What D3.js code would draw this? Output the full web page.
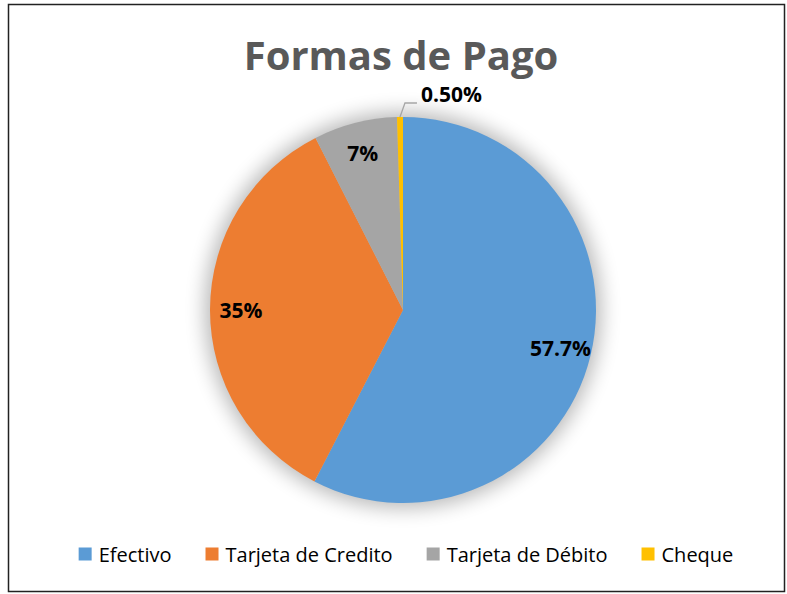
<!DOCTYPE html>
<html>
<head>
<meta charset="utf-8">
<script src="https://cdn.jsdelivr.net/npm/d3@7"></script>
<style>
  body { margin: 0; background: #fff; }
  text { font-family: "Open Sans", "Noto Sans", sans-serif; }
</style>
</head>
<body>
<div id="canvas"></div>
<script>
"use strict"

/* Data */
let categories = ["Efectivo", "Tarjeta de Credito", "Tarjeta de Débito", "Cheque"];
let values = [57.7, 35, 7, 0.5];
let labels = ["57.7%", "35%", "7%", "0.50%"];
let colors = ["#5B9BD5", "#ED7D31", "#A5A5A5", "#FFC000"];

/* Drawing setup */
let svgWidth = 787;
let svgHeight = 594;
let cx = 403;
let cy = 310;
let radius = 193;

let svg = d3.select("#canvas")
    .append("svg")
    .attr("width", svgWidth)
    .attr("height", svgHeight);

/* chart frame */
svg.append("rect")
    .attr("x", 8.5)
    .attr("y", 4.5)
    .attr("width", 776)
    .attr("height", 587)
    .attr("fill", "#fff")
    .attr("stroke", "#222")
    .attr("stroke-width", 1.5);

/* title */
svg.append("text")
    .attr("x", 401)
    .attr("y", 70)
    .attr("text-anchor", "middle")
    .attr("font-size", 40)
    .attr("font-weight", "bold")
    .attr("fill", "#595959")
    .text("Formas de Pago");

/* soft shadow behind the pie */
let defs = svg.append("defs");
defs.append("filter")
    .attr("id", "shadow")
    .attr("x", "-30%").attr("y", "-30%")
    .attr("width", "160%").attr("height", "160%")
    .append("feGaussianBlur")
    .attr("stdDeviation", 10);

let g = svg.append("g")
    .attr("transform", "translate(" + cx + "," + cy + ")");

g.append("circle")
    .attr("r", radius + 5)
    .attr("fill", "#000")
    .attr("opacity", 0.28)
    .attr("filter", "url(#shadow)");

let pie = d3.pie().sort(null).value(function(d) { return d; });
let arcs = pie(values);

let arc = d3.arc().innerRadius(0).outerRadius(radius);
let labelArc = d3.arc().innerRadius(radius * 0.84).outerRadius(radius * 0.84);
let outerArc = d3.arc().innerRadius(radius).outerRadius(radius);

g.selectAll("path.slice")
    .data(arcs)
    .join("path")
    .attr("class", "slice")
    .attr("d", arc)
    .attr("fill", function(d, i) { return colors[i]; });

/* labels inside the slices, the tiny one outside with a leader line */
arcs.forEach(function(d, i) {
    if (d.endAngle - d.startAngle > 0.1) {
        let p = labelArc.centroid(d);
        g.append("text")
            .attr("x", p[0])
            .attr("y", p[1])
            .attr("text-anchor", "middle")
            .attr("dominant-baseline", "central")
            .attr("font-size", 21)
            .attr("font-weight", "bold")
            .attr("fill", "#000")
            .text(labels[i]);
    } else {
        let p = outerArc.centroid(d);
        let bend = [p[0] + 5, p[1] - 14];
        let end = [bend[0] + 12, bend[1]];
        g.append("polyline")
            .attr("points", [p, bend, end].map(function(q) { return q.join(","); }).join(" "))
            .attr("fill", "none")
            .attr("stroke", "#a6a6a6")
            .attr("stroke-width", 1.3);
        g.append("text")
            .attr("x", end[0] + 4)
            .attr("y", end[1] - 1)
            .attr("text-anchor", "start")
            .attr("font-size", 21)
            .attr("font-weight", "bold")
            .attr("fill", "#000")
            .text(labels[i]);
    }
});

/* legend, laid out from measured text widths and centred */
let legendY = 554;
let boxSize = 13;
let boxGap = 7;
let itemGap = 34;

let legend = svg.append("g");
let items = legend.selectAll("g")
    .data(categories)
    .join("g");

items.append("rect")
    .attr("width", boxSize)
    .attr("height", boxSize)
    .attr("y", legendY - boxSize / 2)
    .attr("fill", function(d, i) { return colors[i]; });

items.append("text")
    .attr("x", boxSize + boxGap)
    .attr("y", legendY)
    .attr("dominant-baseline", "central")
    .attr("font-size", 20)
    .attr("fill", "#000")
    .text(function(d) { return d; });

let offsets = [];
let total = 0;
items.each(function(d, i) {
    let w = boxSize + boxGap + d3.select(this).select("text").node().getComputedTextLength();
    offsets.push(total);
    total += w + (i < categories.length - 1 ? itemGap : 0);
});
let startX = 406 - total / 2;
items.attr("transform", function(d, i) {
    return "translate(" + (startX + offsets[i]) + ",0)";
});
</script>
</body>
</html>
